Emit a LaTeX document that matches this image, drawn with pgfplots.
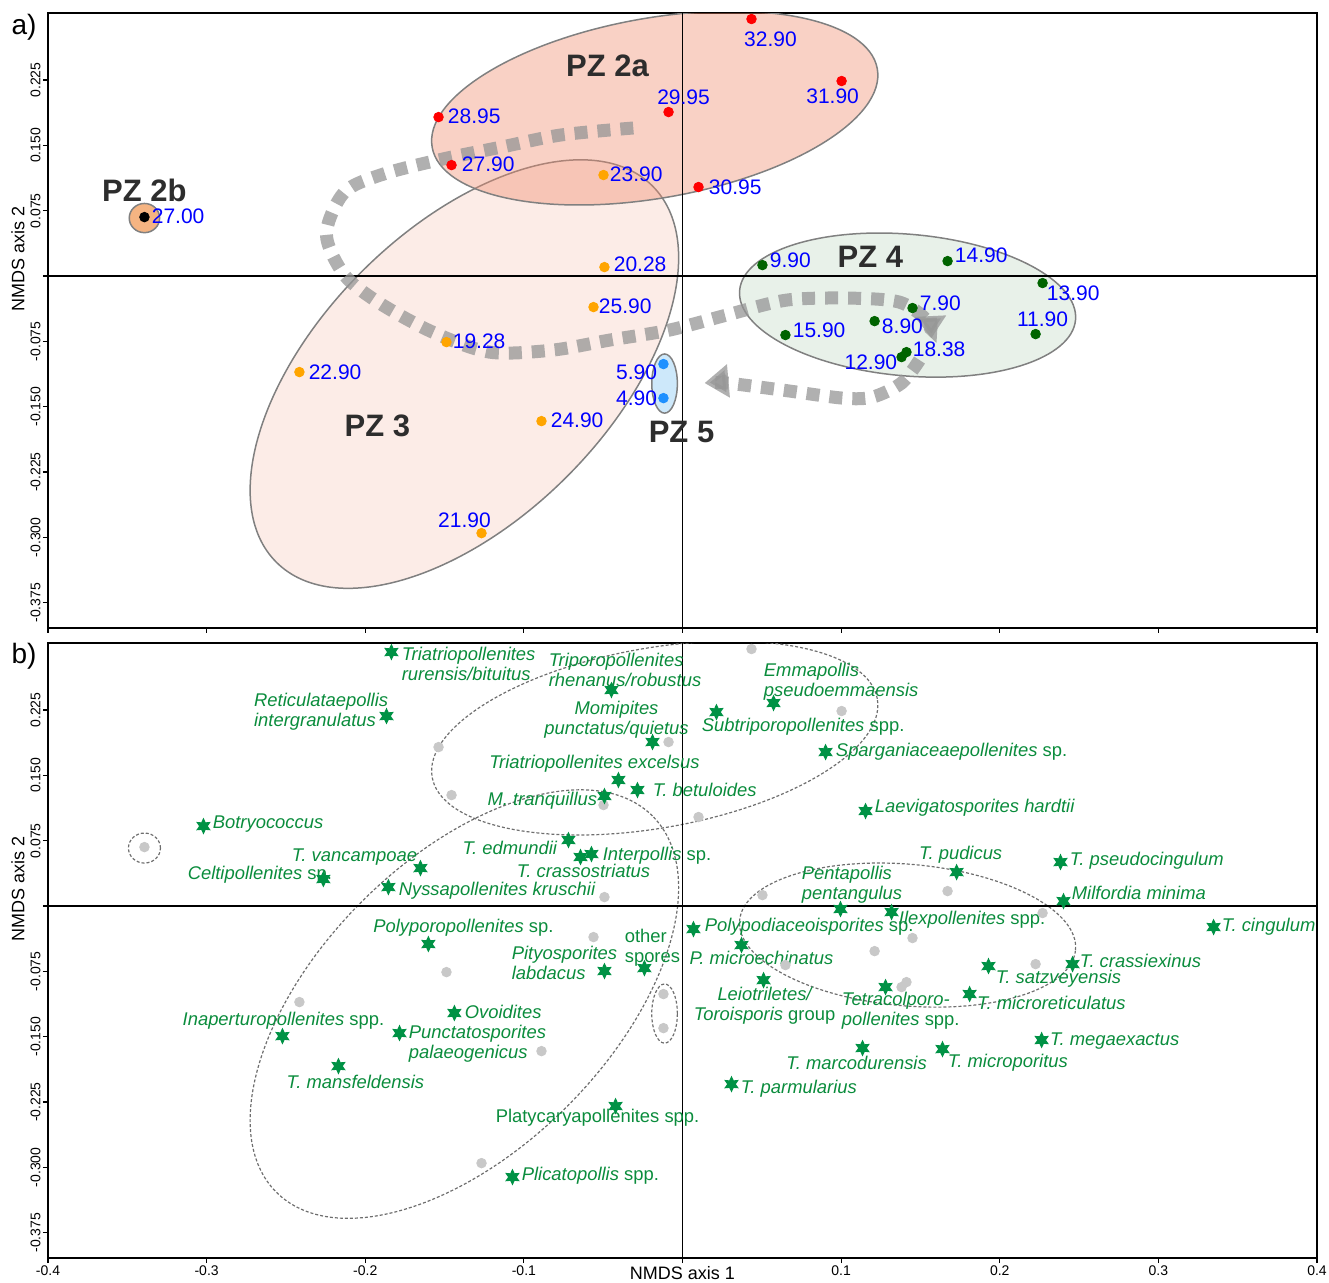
\documentclass[border=0pt]{standalone}
\usepackage{pgfplots}
\pgfplotsset{compat=1.18}
\usepackage{fontspec}
\setmainfont{Liberation Sans}
\usetikzlibrary{arrows.meta}

\definecolor{labgreen}{RGB}{10,140,60}
\definecolor{stargreen}{RGB}{0,146,69}
\definecolor{dotgreen}{RGB}{0,100,0}
\definecolor{dotorange}{RGB}{255,165,0}
\definecolor{dotblue}{RGB}{30,144,255}
\definecolor{dotred}{RGB}{255,0,0}
\definecolor{salmonc}{RGB}{240,140,110}
\definecolor{pzgreen}{RGB}{100,160,110}
\definecolor{pzblue}{RGB}{205,232,250}
\definecolor{pzorange}{RGB}{245,180,130}
\definecolor{edgegray}{RGB}{128,128,128}
\definecolor{pztext}{RGB}{45,45,45}
\definecolor{arrowgray}{RGB}{150,150,150}
\definecolor{dotgray}{RGB}{200,200,200}
\definecolor{dashgray}{RGB}{110,110,110}
\definecolor{labblue}{RGB}{0,0,255}

\pgfdeclareplotmark{star6}{%
  \pgfpathmoveto{\pgfpointpolar{90}{\pgfplotmarksize}}%
  \pgfpathlineto{\pgfpointpolar{120}{0.52\pgfplotmarksize}}%
  \pgfpathlineto{\pgfpointpolar{150}{\pgfplotmarksize}}%
  \pgfpathlineto{\pgfpointpolar{180}{0.52\pgfplotmarksize}}%
  \pgfpathlineto{\pgfpointpolar{210}{\pgfplotmarksize}}%
  \pgfpathlineto{\pgfpointpolar{240}{0.52\pgfplotmarksize}}%
  \pgfpathlineto{\pgfpointpolar{270}{\pgfplotmarksize}}%
  \pgfpathlineto{\pgfpointpolar{300}{0.52\pgfplotmarksize}}%
  \pgfpathlineto{\pgfpointpolar{330}{\pgfplotmarksize}}%
  \pgfpathlineto{\pgfpointpolar{0}{0.52\pgfplotmarksize}}%
  \pgfpathlineto{\pgfpointpolar{30}{\pgfplotmarksize}}%
  \pgfpathlineto{\pgfpointpolar{60}{0.52\pgfplotmarksize}}%
  \pgfpathclose\pgfusepathqfill}

\tikzset{
  blab/.style={font=\fontsize{10.5}{12}\selectfont, text=labblue, inner sep=0pt},
  glab/.style={font=\fontsize{9.2}{10}\selectfont\itshape, text=labgreen, inner sep=0pt, align=left},
  pzl/.style={font=\fontsize{15.5}{18}\selectfont\bfseries, text=pztext, inner sep=0pt},
  dell/.style={dashgray, line width=0.6pt, dash pattern=on 1.5pt off 1pt},
}
\pgfplotsset{
  panel/.style={
    scale only axis, width=634.5pt, height=307.5pt,
    xmin=-0.4, xmax=0.4, ymin=-0.404, ymax=0.302,
    axis line style={line width=1pt},
    tick style={black, line width=0.6pt},
    tick align=outside, major tick length=2.5pt,
    xtick pos=left, ytick pos=left,
    xtick={-0.4,-0.3,-0.2,-0.1,0,0.1,0.2,0.3,0.4},
    ytick={-0.375,-0.3,-0.225,-0.15,-0.075,0,0.075,0.15,0.225},
    yticklabels={-0.375,-0.300,-0.225,-0.150,-0.075,,0.075,0.150,0.225},
    yticklabel style={rotate=90, anchor=south, font=\fontsize{7}{8}\selectfont, inner sep=1pt},
    xticklabel style={font=\fontsize{7}{8}\selectfont, inner sep=1pt},
    ylabel={NMDS axis 2},
    ylabel style={at={(axis description cs:-0.0236,0.6)}, anchor=center, font=\fontsize{9}{10}\selectfont},
  },
  arr/.style={smooth, line width=6.5pt, arrowgray, opacity=0.75, dash pattern=on 6.5pt off 5pt},
}

\begin{document}
\begin{tikzpicture}
\path[use as bounding box] (0,0) rectangle (664.5pt,641pt);

% ---------------- panel a ----------------
\begin{axis}[panel, name=top, at={(24pt,327pt)}, anchor=south west, xticklabels={}]
\draw[fill=salmonc, fill opacity=0.17, draw=edgegray, line width=0.75pt, rotate around={45:(axis cs:-0.1375,-0.1125)}] (axis cs:-0.1375,-0.1125) ellipse [x radius=133pt, y radius=72.5pt];
\draw[fill=salmonc, fill opacity=0.4, draw=edgegray, line width=0.75pt, rotate around={10:(axis cs:-0.0175,0.1929)}] (axis cs:-0.0175,0.1929) ellipse [x radius=113pt, y radius=45pt];
\draw[fill=pzgreen, fill opacity=0.15, draw=edgegray, line width=0.75pt, rotate around={-5:(axis cs:0.1419,-0.0333)}] (axis cs:0.1419,-0.0333) ellipse [x radius=84.3pt, y radius=35.4pt];
\draw[fill=pzblue, draw=edgegray, line width=0.75pt] (axis cs:-0.0113,-0.1234) ellipse [x radius=6.4pt, y radius=14.8pt];
\draw[fill=pzorange, draw=edgegray, line width=0.75pt] (axis cs:-0.3392,0.0666) ellipse [x radius=7.6pt, y radius=7.3pt];
\draw[line width=0.8pt] (axis cs:0,-0.404) -- (axis cs:0,0.302);
\draw[line width=0.8pt] (axis cs:-0.4,0) -- (axis cs:0.4,0);
\addplot[arr, -{Triangle[length=11pt,width=15pt]}] coordinates {
(-0.0310,0.1700) (-0.0769,0.1619) (-0.1141,0.1481) (-0.1513,0.1343) (-0.1885,0.1171)
(-0.2131,0.0964) (-0.2245,0.0482) (-0.2131,0.0011) (-0.1910,-0.0310) (-0.1576,-0.0643)
(-0.1217,-0.0873) (-0.0820,-0.0850) (-0.0460,-0.0735) (-0.0082,-0.0620) (0.0277,-0.0448)
(0.0656,-0.0276) (0.1053,-0.0253) (0.1368,-0.0299) (0.1538,-0.0505) (0.1570,-0.0712)};
\addplot[arr, -{Triangle[length=12pt,width=16pt]}] coordinates {
(0.1494,-0.0964) (0.1381,-0.1228) (0.1198,-0.1389) (0.1009,-0.1401) (0.0631,-0.1309) (0.0277,-0.1228) (0.0139,-0.1228)};
\addplot[only marks, mark=*, mark size=2.4pt, color=dotred] coordinates {
(0.0435,0.2951) (0.1003,0.2239) (-0.0088,0.1883) (-0.1538,0.1825) (-0.1456,0.1274) (0.0101,0.1022)};
\addplot[only marks, mark=*, mark size=2.4pt, color=dotorange] coordinates {
(-0.0498,0.1160) (-0.0492,0.0103) (-0.0561,-0.0356) (-0.1488,-0.0758) (-0.2415,-0.1102) (-0.0889,-0.1665) (-0.1267,-0.2951)};
\addplot[only marks, mark=*, mark size=2.4pt, color=black] coordinates {(-0.3392,0.0677)};
\addplot[only marks, mark=*, mark size=2.4pt, color=dotblue] coordinates {(-0.0120,-0.1010) (-0.0120,-0.1401)};
\addplot[only marks, mark=*, mark size=2.4pt, color=dotgreen] coordinates {
(0.0504,0.0126) (0.1671,0.0172) (0.2270,-0.0080) (0.1450,-0.0367) (0.1211,-0.0517)
(0.2226,-0.0666) (0.0649,-0.0677) (0.1412,-0.0873) (0.1381,-0.0930)};
\node[blab, anchor=center, xshift=9.5pt, yshift=-10pt] at (axis cs:0.0435,0.2951) {32.90};
\node[blab, anchor=center, xshift=-4.5pt, yshift=-7.5pt] at (axis cs:0.1003,0.2239) {31.90};
\node[blab, anchor=center, xshift=7.5pt, yshift=7.5pt] at (axis cs:-0.0088,0.1883) {29.95};
\node[blab, anchor=west, xshift=4.5pt, yshift=0.5pt] at (axis cs:-0.1538,0.1825) {28.95};
\node[blab, anchor=west, xshift=5pt, yshift=0.5pt] at (axis cs:-0.1456,0.1274) {27.90};
\node[blab, anchor=west, xshift=5pt] at (axis cs:0.0101,0.1022) {30.95};
\node[blab, anchor=west, xshift=3pt, yshift=0.5pt] at (axis cs:-0.0498,0.1160) {23.90};
\node[blab, anchor=west, xshift=4.5pt, yshift=1.5pt] at (axis cs:-0.0492,0.0103) {20.28};
\node[blab, anchor=west, xshift=2.5pt, yshift=0.5pt] at (axis cs:-0.0561,-0.0356) {25.90};
\node[blab, anchor=west, xshift=3pt, yshift=0.5pt] at (axis cs:-0.1488,-0.0758) {19.28};
\node[blab, anchor=west, xshift=4.5pt] at (axis cs:-0.2415,-0.1102) {22.90};
\node[blab, anchor=west, xshift=4.5pt, yshift=0.5pt] at (axis cs:-0.0889,-0.1665) {24.90};
\node[blab, anchor=center, xshift=-8.5pt, yshift=6.5pt] at (axis cs:-0.1267,-0.2951) {21.90};
\node[blab, anchor=west, xshift=3.5pt, yshift=0.5pt] at (axis cs:-0.3392,0.0677) {27.00};
\node[blab, anchor=east, xshift=-3pt, yshift=-4pt] at (axis cs:-0.0120,-0.1010) {5.90};
\node[blab, anchor=east, xshift=-3pt] at (axis cs:-0.0120,-0.1401) {4.90};
\node[blab, anchor=west, xshift=3.5pt, yshift=2.5pt] at (axis cs:0.0504,0.0126) {9.90};
\node[blab, anchor=west, xshift=3.5pt, yshift=3pt] at (axis cs:0.1671,0.0172) {14.90};
\node[blab, anchor=west, xshift=2pt, yshift=-5pt] at (axis cs:0.2270,-0.0080) {13.90};
\node[blab, anchor=west, xshift=3.5pt, yshift=2.5pt] at (axis cs:0.1450,-0.0367) {7.90};
\node[blab, anchor=west, xshift=3.5pt, yshift=-2.5pt] at (axis cs:0.1211,-0.0517) {8.90};
\node[blab, anchor=center, xshift=3.5pt, yshift=7.5pt] at (axis cs:0.2226,-0.0666) {11.90};
\node[blab, anchor=west, xshift=3.5pt, yshift=2.5pt] at (axis cs:0.0649,-0.0677) {15.90};
\node[blab, anchor=west, xshift=3pt, yshift=1.5pt] at (axis cs:0.1412,-0.0873) {18.38};
\node[blab, anchor=east, xshift=-2pt, yshift=-2.5pt] at (axis cs:0.1381,-0.0930) {12.90};
\node[pzl] at (axis cs:-0.0473,0.2411) {PZ 2a};
\node[pzl] at (axis cs:-0.3392,0.0987) {PZ 2b};
\node[pzl] at (axis cs:-0.1923,-0.1722) {PZ 3};
\node[pzl] at (axis cs:0.1185,0.0218) {PZ 4};
\node[pzl] at (axis cs:-0.0006,-0.1791) {PZ 5};
\end{axis}
\node[font=\fontsize{14}{16}\selectfont, inner sep=0pt] at ([xshift=-12pt,yshift=-7pt]top.north west) {a)};

% ---------------- panel b ----------------
\begin{axis}[panel, name=bot, at={(24pt,12pt)}, anchor=south west,
  xticklabels={-0.4,-0.3,-0.2,-0.1,,0.1,0.2,0.3,0.4},
  xlabel={NMDS axis 1},
  xlabel style={at={(axis description cs:0.5,0)}, anchor=center, yshift=-7.5pt, font=\fontsize{9}{10}\selectfont}]
\draw[dell, rotate around={45:(axis cs:-0.1375,-0.1125)}] (axis cs:-0.1375,-0.1125) ellipse [x radius=133pt, y radius=72.5pt];
\draw[dell, rotate around={10:(axis cs:-0.0175,0.1929)}] (axis cs:-0.0175,0.1929) ellipse [x radius=113pt, y radius=45pt];
\draw[dell, rotate around={-5:(axis cs:0.1419,-0.0333)}] (axis cs:0.1419,-0.0333) ellipse [x radius=84.3pt, y radius=35.4pt];
\draw[dell] (axis cs:-0.0113,-0.1234) ellipse [x radius=6.4pt, y radius=14.8pt];
\draw[dell] (axis cs:-0.3392,0.0666) ellipse [x radius=8pt, y radius=7.5pt];
\draw[line width=0.8pt] (axis cs:0,-0.404) -- (axis cs:0,0.302);
\draw[line width=0.8pt] (axis cs:-0.4,0) -- (axis cs:0.4,0);
\addplot[only marks, mark=*, mark size=2.4pt, color=dotgray] coordinates {
(0.0435,0.2951) (0.1003,0.2239) (-0.0088,0.1883) (-0.1538,0.1825) (-0.1456,0.1274) (0.0101,0.1022)
(-0.0498,0.1160) (-0.0492,0.0103) (-0.0561,-0.0356) (-0.1488,-0.0758) (-0.2415,-0.1102) (-0.0889,-0.1665) (-0.1267,-0.2951)
(-0.3392,0.0677) (-0.0120,-0.1010) (-0.0120,-0.1401)
(0.0504,0.0126) (0.1671,0.0172) (0.2270,-0.0080) (0.1450,-0.0367) (0.1211,-0.0517)
(0.2226,-0.0666) (0.0649,-0.0677) (0.1412,-0.0873) (0.1381,-0.0930)};
\node[glab, anchor=west, xshift=5pt, yshift=-6pt] at (axis cs:-0.1835,0.2916) {Triatriopollenites\\rurensis/bituitus};
\node[glab, anchor=east, xshift=1pt, yshift=2pt] at (axis cs:-0.1866,0.2181) {Reticulataepollis\\intergranulatus};
\node[glab, anchor=west, xshift=-31.5pt, yshift=10pt] at (axis cs:-0.0448,0.2480) {Triporopollenites\\rhenanus/robustus};
\node[glab, align=center, anchor=center, xshift=-18pt, yshift=11pt] at (axis cs:-0.0189,0.1883) {Momipites\\punctatus/quietus};
\node[glab, anchor=center, xshift=-12pt, yshift=8pt] at (axis cs:-0.0404,0.1447) {Triatriopollenites excelsus};
\node[glab, anchor=west, xshift=7.5pt] at (axis cs:-0.0284,0.1332) {T. betuloides};
\node[glab, anchor=east, xshift=-3.5pt, yshift=-2.5pt] at (axis cs:-0.0492,0.1263) {M. tranquillus};
\node[glab, anchor=west, xshift=4.5pt, yshift=1pt] at (axis cs:-0.3020,0.0918) {Botryococcus};
\node[glab, anchor=east, xshift=-5.5pt, yshift=-4pt] at (axis cs:-0.0719,0.0758) {T. edmundii};
\node[glab, anchor=west, xshift=5.5pt, yshift=-1pt] at (axis cs:-0.0574,0.0597) {Interpollis {\upshape sp.}};
\node[glab, anchor=center, xshift=1.5pt, yshift=-7pt] at (axis cs:-0.0643,0.0563) {T. crassostriatus};
\node[glab, anchor=east, xshift=-1.5pt, yshift=5.5pt] at (axis cs:-0.1652,0.0436) {T. vancampoae};
\node[glab, anchor=east, xshift=4.5pt, yshift=2pt] at (axis cs:-0.2264,0.0310) {Celtipollenites {\upshape sp.}};
\node[glab, anchor=west, xshift=5pt, yshift=-2pt] at (axis cs:-0.1854,0.0218) {Nyssapollenites kruschii};
\node[glab, anchor=west, xshift=-5pt, yshift=10.5pt] at (axis cs:0.0574,0.2331) {Emmapollis\\pseudoemmaensis};
\node[glab, anchor=west, xshift=-7.5pt, yshift=-7.5pt] at (axis cs:0.0214,0.2227) {Subtriporopollenites {\upshape spp.}};
\node[glab, anchor=west, xshift=5pt] at (axis cs:0.0902,0.1768) {Sparganiaceaepollenites {\upshape sp.}};
\node[glab, anchor=west, xshift=4.5pt, yshift=1.5pt] at (axis cs:0.1154,0.1091) {Laevigatosporites hardtii};
\node[glab, anchor=center, xshift=2pt, yshift=8.5pt] at (axis cs:0.1728,0.0390) {T. pudicus};
\node[glab, anchor=west, xshift=4.5pt, yshift=0.5pt] at (axis cs:0.2383,0.0505) {T. pseudocingulum};
\node[glab, anchor=west, xshift=4pt, yshift=4pt] at (axis cs:0.2402,0.0057) {Milfordia minima};
\node[glab, anchor=west, xshift=-19.5pt, yshift=12pt] at (axis cs:0.0996,-0.0034) {Pentapollis\\pentangulus};
\node[glab, anchor=west, xshift=3.5pt, yshift=-4pt] at (axis cs:0.1318,-0.0069) {Ilexpollenites {\upshape spp.}};
\node[glab, anchor=west, xshift=5.5pt, yshift=1pt] at (axis cs:0.0069,-0.0264) {Polypodiaceoisporites {\upshape sp.}};
\node[glab, anchor=west, xshift=4pt] at (axis cs:0.3348,-0.0241) {T. cingulum};
\node[glab, anchor=center, xshift=10pt, yshift=-6.5pt] at (axis cs:0.0372,-0.0448) {P. microechinatus};
\node[glab, anchor=west, xshift=-10pt, yshift=10pt] at (axis cs:-0.0240,-0.0712) {{\upshape other}\\{\upshape spores}};
\node[glab, anchor=west, xshift=-46.5pt, yshift=4pt] at (axis cs:-0.0492,-0.0746) {Pityosporites\\labdacus};
\node[glab, anchor=west, xshift=3.5pt, yshift=1.5pt] at (axis cs:0.2459,-0.0666) {T. crassiexinus};
\node[glab, anchor=west, xshift=3.5pt, yshift=-6.5pt] at (axis cs:0.1929,-0.0689) {T. satzveyensis};
\node[glab, align=center, anchor=center, xshift=0.5pt, yshift=-13pt] at (axis cs:0.0511,-0.0850) {Leiotriletes/\\Toroisporis {\upshape group}};
\node[glab, anchor=west, xshift=-22pt, yshift=-12pt] at (axis cs:0.1280,-0.0930) {Tetracolporo-\\pollenites {\upshape spp.}};
\node[glab, anchor=west, xshift=3.5pt, yshift=-4.5pt] at (axis cs:0.1810,-0.1010) {T. microreticulatus};
\node[glab, anchor=west, xshift=5pt, yshift=0.5pt] at (axis cs:-0.1438,-0.1228) {Ovoidites};
\node[glab, anchor=center, xshift=0.5pt, yshift=7.5pt] at (axis cs:-0.2522,-0.1493) {Inaperturopollenites {\upshape spp.}};
\node[glab, anchor=west, xshift=4.5pt, yshift=-5.5pt] at (axis cs:-0.1784,-0.1458) {Punctatosporites\\palaeogenicus};
\node[glab, anchor=west, xshift=4pt, yshift=-0.5pt] at (axis cs:0.2264,-0.1538) {T. megaexactus};
\node[glab, anchor=center, xshift=-3pt, yshift=-7.5pt] at (axis cs:0.1135,-0.1630) {T. marcodurensis};
\node[glab, anchor=west, xshift=2.5pt, yshift=-7pt] at (axis cs:0.1639,-0.1642) {T. microporitus};
\node[glab, anchor=center, xshift=8.5pt, yshift=-8pt] at (axis cs:-0.2169,-0.1837) {T. mansfeldensis};
\node[glab, anchor=west, xshift=4.5pt, yshift=-2.5pt] at (axis cs:0.0309,-0.2044) {T. parmularius};
\node[glab, anchor=center, xshift=-9pt, yshift=-6pt] at (axis cs:-0.0422,-0.2296) {\upshape Platycaryapollenites spp.};
\node[glab, anchor=west, xshift=4.5pt, yshift=0.5pt] at (axis cs:-0.1072,-0.3111) {Plicatopollis {\upshape spp.}};
\node[glab, anchor=center, xshift=17.5pt, yshift=8pt] at (axis cs:-0.1602,-0.0436) {Polyporopollenites {\upshape sp.}};
\addplot[only marks, mark=star6, mark size=4.2pt, color=stargreen] coordinates {
(-0.1835,0.2916) (-0.1866,0.2181) (-0.0448,0.2480) (-0.0189,0.1883) (-0.0404,0.1447)
(-0.0284,0.1332) (-0.0492,0.1263) (-0.3020,0.0918) (-0.0719,0.0758) (-0.0574,0.0597)
(-0.0643,0.0563) (-0.1652,0.0436) (-0.2264,0.0310) (-0.1854,0.0218) (0.0574,0.2331)
(0.0214,0.2227) (0.0902,0.1768) (0.1154,0.1091) (0.1728,0.0390) (0.2383,0.0505)
(0.2402,0.0057) (0.0996,-0.0034) (0.1318,-0.0069) (0.0069,-0.0264) (0.3348,-0.0241)
(0.0372,-0.0448) (-0.0240,-0.0712) (-0.0492,-0.0746) (0.2459,-0.0666) (0.1929,-0.0689)
(0.0511,-0.0850) (0.1280,-0.0930) (0.1810,-0.1010) (-0.1438,-0.1228) (-0.2522,-0.1493)
(-0.1784,-0.1458) (0.2264,-0.1538) (0.1135,-0.1630) (0.1639,-0.1642) (-0.2169,-0.1837)
(0.0309,-0.2044) (-0.0422,-0.2296) (-0.1072,-0.3111) (-0.1602,-0.0436)};
\end{axis}
\node[font=\fontsize{14}{16}\selectfont, inner sep=0pt] at ([xshift=-12pt,yshift=-6.5pt]bot.north west) {b)};
\end{tikzpicture}
\end{document}
